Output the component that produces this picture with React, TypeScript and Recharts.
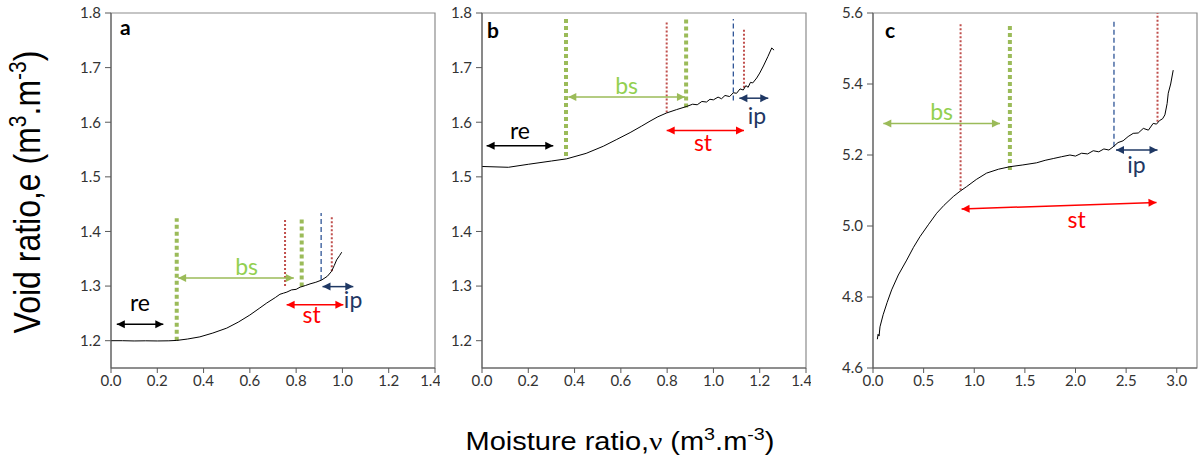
import {
  Line,
  LineChart,
  ReferenceArea,
  ReferenceDot,
  ReferenceLine,
  XAxis,
  YAxis,
} from "recharts";

// ---- curve data (moisture ratio v, void ratio e) ----
const aMoisture = [0, 0.05, 0.1, 0.15, 0.2, 0.25, 0.284, 0.33, 0.384, 0.44, 0.5, 0.55, 0.6, 0.64, 0.673, 0.71, 0.73, 0.745, 0.76, 0.78, 0.8, 0.817, 0.84, 0.86, 0.885, 0.91, 0.935, 0.953, 0.965, 0.975, 0.988, 0.997];
const aVoid = [1.2, 1.2, 1.1995, 1.1998, 1.1995, 1.1998, 1.2005, 1.203, 1.207, 1.214, 1.223, 1.234, 1.247, 1.259, 1.269, 1.279, 1.285, 1.287, 1.289, 1.293, 1.294, 1.298, 1.301, 1.304, 1.307, 1.311, 1.318, 1.327, 1.338, 1.348, 1.356, 1.362];

const bMoisture = [0, 0.114, 0.2, 0.3, 0.366, 0.45, 0.524, 0.58, 0.64, 0.69, 0.726, 0.76, 0.798, 0.84, 0.885, 0.91, 0.93, 0.95, 0.97, 0.985, 1.0, 1.02, 1.035, 1.05, 1.07, 1.086, 1.1, 1.115, 1.129, 1.14, 1.15, 1.16, 1.17, 1.187, 1.2, 1.216, 1.235, 1.252, 1.262];
const bVoid = [1.519, 1.5175, 1.523, 1.529, 1.533, 1.543, 1.556, 1.568, 1.581, 1.593, 1.602, 1.61, 1.617, 1.623, 1.629, 1.633, 1.632, 1.638, 1.637, 1.642, 1.641, 1.646, 1.643, 1.649, 1.647, 1.654, 1.653, 1.661, 1.659, 1.667, 1.664, 1.673, 1.672, 1.681, 1.69, 1.703, 1.72, 1.736, 1.732];

const cMoisture = [0.043, 0.05, 0.06, 0.069, 0.1, 0.14, 0.184, 0.25, 0.333, 0.4, 0.464, 0.55, 0.629, 0.7, 0.793, 0.86, 0.925, 1.02, 1.122, 1.24, 1.352, 1.48, 1.616, 1.7, 1.78, 1.86, 1.945, 2.0, 2.06, 2.12, 2.175, 2.23, 2.28, 2.33, 2.372, 2.42, 2.47, 2.52, 2.57, 2.62, 2.67, 2.72, 2.767, 2.8, 2.83, 2.86, 2.883, 2.905, 2.916, 2.94, 2.965];
const cVoid = [4.681, 4.695, 4.69, 4.716, 4.75, 4.785, 4.82, 4.862, 4.904, 4.94, 4.97, 5.005, 5.036, 5.058, 5.083, 5.098, 5.111, 5.131, 5.149, 5.16, 5.167, 5.172, 5.178, 5.185, 5.19, 5.195, 5.2, 5.197, 5.205, 5.203, 5.212, 5.209, 5.217, 5.214, 5.223, 5.235, 5.24, 5.252, 5.261, 5.262, 5.275, 5.27, 5.289, 5.287, 5.297, 5.302, 5.313, 5.345, 5.374, 5.4, 5.439];

// ---- ticks ----
const abXTicks = [0, 0.2, 0.4, 0.6, 0.8, 1.0, 1.2, 1.4];
const abYTicks = [1.2, 1.3, 1.4, 1.5, 1.6, 1.7, 1.8];
const cXTicks = [0, 0.5, 1.0, 1.5, 2.0, 2.5, 3.0];
const cYTicks = [4.6, 4.8, 5.0, 5.2, 5.4, 5.6];

// ---- annotations ----
type Kind = "re" | "bs" | "st" | "ip";
type Bound = { kind: Kind; v: number; top: number; bottom: number };
type Span = { kind: Kind; from: number; to: number; e: number; e2?: number };
type Tag = { kind: Kind; v: number; e: number };

const aBounds: Bound[] = [
  { kind: "bs", v: 0.284, top: 1.424, bottom: 1.2 },
  { kind: "bs", v: 0.824, top: 1.424, bottom: 1.299 },
  { kind: "st", v: 0.752, top: 1.424, bottom: 1.3 },
  { kind: "st", v: 0.954, top: 1.429, bottom: 1.327 },
  { kind: "ip", v: 0.908, top: 1.434, bottom: 1.311 },
];
const aSpans: Span[] = [
  { kind: "re", from: 0.025, to: 0.226, e: 1.23 },
  { kind: "bs", from: 0.29, to: 0.79, e: 1.315 },
  { kind: "st", from: 0.759, to: 1.004, e: 1.266 },
  { kind: "ip", from: 0.914, to: 1.047, e: 1.299 },
];
const aTags: Tag[] = [
  { kind: "re", v: 0.125, e: 1.269 },
  { kind: "bs", v: 0.586, e: 1.336 },
  { kind: "st", v: 0.867, e: 1.247 },
  { kind: "ip", v: 1.046, e: 1.275 },
];

const bBounds: Bound[] = [
  { kind: "bs", v: 0.363, top: 1.792, bottom: 1.538 },
  { kind: "bs", v: 0.882, top: 1.792, bottom: 1.627 },
  { kind: "st", v: 0.798, top: 1.785, bottom: 1.618 },
  { kind: "st", v: 1.132, top: 1.77, bottom: 1.663 },
  { kind: "ip", v: 1.086, top: 1.789, bottom: 1.64 },
];
const bSpans: Span[] = [
  { kind: "re", from: 0.02, to: 0.308, e: 1.557 },
  { kind: "bs", from: 0.373, to: 0.877, e: 1.646 },
  { kind: "st", from: 0.798, to: 1.132, e: 1.585 },
  { kind: "ip", from: 1.112, to: 1.237, e: 1.644 },
];
const bTags: Tag[] = [
  { kind: "re", v: 0.164, e: 1.584 },
  { kind: "bs", v: 0.625, e: 1.667 },
  { kind: "st", v: 0.955, e: 1.563 },
  { kind: "ip", v: 1.188, e: 1.611 },
];

const cBounds: Bound[] = [
  { kind: "st", v: 0.865, top: 5.569, bottom: 5.101 },
  { kind: "bs", v: 1.352, top: 5.569, bottom: 5.158 },
  { kind: "ip", v: 2.38, top: 5.58, bottom: 5.223 },
  { kind: "st", v: 2.81, top: 5.6, bottom: 5.294 },
];
const cSpans: Span[] = [
  { kind: "bs", from: 0.102, to: 1.254, e: 5.289 },
  { kind: "ip", from: 2.4, to: 2.81, e: 5.214 },
  { kind: "st", from: 0.875, to: 2.8, e: 5.048, e2: 5.066 },
];
const cTags: Tag[] = [
  { kind: "bs", v: 0.678, e: 5.322 },
  { kind: "ip", v: 2.603, e: 5.172 },
  { kind: "st", v: 2.011, e: 5.017 },
];

// ---- styles ----
const boundStyle: Record<Kind, { stroke: string; width: number; dash: string }> = {
  re: { stroke: "#000", width: 1, dash: "2 2" },
  bs: { stroke: "#9bbb59", width: 4, dash: "4 3" },
  st: { stroke: "#c0504d", width: 2, dash: "2 2" },
  ip: { stroke: "#2f5597", width: 1.3, dash: "5 3" },
};
const arrowColor: Record<Kind, string> = { re: "#000", bs: "#9bbb59", st: "#ff0000", ip: "#1f3864" };
const tagColor: Record<Kind, string> = { re: "#000", bs: "#92d050", st: "#ff0000", ip: "#1f3864" };

const tickFont = { fontSize: 15, fill: "#333", fontFamily: "Lato, sans-serif" };

function arrowShape(color: string) {
  return (p: any) => {
    const { x1, y1, x2, y2 } = p;
    const a = Math.atan2(y2 - y1, x2 - x1);
    const head = (x: number, y: number, ang: number) => {
      const L = 8;
      const W = 4;
      const bx = x - L * Math.cos(ang);
      const by = y - L * Math.sin(ang);
      return `${x},${y} ${bx - W * Math.sin(ang)},${by + W * Math.cos(ang)} ${bx + W * Math.sin(ang)},${by - W * Math.cos(ang)}`;
    };
    return (
      <g>
        <line x1={x1} y1={y1} x2={x2} y2={y2} stroke={color} strokeWidth={1.5} />
        <polygon points={head(x2, y2, a)} fill={color} />
        <polygon points={head(x1, y1, a + Math.PI)} fill={color} />
      </g>
    );
  };
}

function Panel({
  left,
  width,
  marginLeft,
  marginRight,
  moisture,
  voids,
  xDomain,
  xTicks,
  yDomain,
  yTicks,
  bounds,
  spans,
  tags,
}: {
  left: number;
  width: number;
  marginLeft: number;
  marginRight: number;
  moisture: number[];
  voids: number[];
  xDomain: [number, number];
  xTicks: number[];
  yDomain: [number, number];
  yTicks: number[];
  bounds: Bound[];
  spans: Span[];
  tags: Tag[];
}) {
  const data = moisture.map((v, i) => ({ v, e: voids[i] }));
  return (
    <div style={{ position: "absolute", left, top: 0 }}>
      <LineChart
        width={width}
        height={400}
        data={data}
        margin={{ top: 13, right: marginRight, bottom: 2, left: marginLeft }}
      >
        <ReferenceArea
          x1={xDomain[0]}
          x2={xDomain[1]}
          y1={yDomain[0]}
          y2={yDomain[1]}
          fill="none"
          stroke="#8c8c8c"
          strokeWidth={1.2}
          ifOverflow="visible"
        />
        <XAxis
          type="number"
          dataKey="v"
          domain={xDomain}
          ticks={xTicks}
          allowDataOverflow
          tickFormatter={(t: number) => t.toFixed(1)}
          tick={tickFont}
          tickSize={5}
          height={30}
          stroke="#595959"
        />
        <YAxis
          type="number"
          domain={yDomain}
          ticks={yTicks}
          allowDataOverflow
          tickFormatter={(t: number) => t.toFixed(1)}
          tick={tickFont}
          tickSize={6}
          tickMargin={4}
          width={40}
          stroke="#595959"
        />
        {bounds.map((b, i) => (
          <ReferenceLine
            key={`b${i}`}
            segment={[
              { x: b.v, y: b.bottom },
              { x: b.v, y: b.top },
            ]}
            stroke={boundStyle[b.kind].stroke}
            strokeWidth={boundStyle[b.kind].width}
            strokeDasharray={boundStyle[b.kind].dash}
            ifOverflow="visible"
          />
        ))}
        <Line
          type="linear"
          dataKey="e"
          stroke="#000"
          strokeWidth={1}
          dot={false}
          isAnimationActive={false}
        />
        {spans.map((s, i) => (
          <ReferenceLine
            key={`s${i}`}
            segment={[
              { x: s.from, y: s.e },
              { x: s.to, y: s.e2 ?? s.e },
            ]}
            stroke={arrowColor[s.kind]}
            shape={arrowShape(arrowColor[s.kind])}
            ifOverflow="visible"
          />
        ))}
        {tags.map((t, i) => (
          <ReferenceDot
            key={`t${i}`}
            x={t.v}
            y={t.e}
            r={0}
            stroke="none"
            fill="none"
            ifOverflow="visible"
            label={{
              value: t.kind,
              position: "center",
              fill: tagColor[t.kind],
              fontSize: 23,
              fontFamily: "Lato, sans-serif",
            }}
          />
        ))}
      </LineChart>
    </div>
  );
}

const panelLetters = ["a", "b", "c"];

export default function App() {
  const letterPos = [
    [120, 35],
    [487, 38],
    [885, 38],
  ];
  return (
    <div
      style={{
        position: "absolute",
        left: 0,
        top: 0,
        width: 1198,
        height: 468,
        background: "#fff",
        overflow: "hidden",
      }}
    >
      <Panel
        left={70}
        width={370}
        marginLeft={1}
        marginRight={5}
        moisture={aMoisture}
        voids={aVoid}
        xDomain={[0, 1.4]}
        xTicks={abXTicks}
        yDomain={[1.15, 1.8]}
        yTicks={abYTicks}
        bounds={aBounds}
        spans={aSpans}
        tags={aTags}
      />
      <Panel
        left={440}
        width={371}
        marginLeft={2}
        marginRight={5}
        moisture={bMoisture}
        voids={bVoid}
        xDomain={[0, 1.4]}
        xTicks={abXTicks}
        yDomain={[1.15, 1.8]}
        yTicks={abYTicks}
        bounds={bBounds}
        spans={bSpans}
        tags={bTags}
      />
      <Panel
        left={830}
        width={368}
        marginLeft={3}
        marginRight={1}
        moisture={cMoisture}
        voids={cVoid}
        xDomain={[0, 3.2]}
        xTicks={cXTicks}
        yDomain={[4.6, 5.6]}
        yTicks={cYTicks}
        bounds={cBounds}
        spans={cSpans}
        tags={cTags}
      />
      <svg
        width={1198}
        height={468}
        style={{ position: "absolute", left: 0, top: 0, pointerEvents: "none" }}
      >
        {panelLetters.map((l, i) => (
          <text
            key={l}
            x={letterPos[i][0]}
            y={letterPos[i][1]}
            fontSize={21}
            fontWeight={700}
            fontFamily="Lato, sans-serif"
            fill="#000"
          >
            {l}
          </text>
        ))}
        <text
          transform="translate(40,192) scale(1.16,1) rotate(-90)"
          textAnchor="middle"
          fontSize={32}
          fontFamily="'Liberation Sans', Arial, sans-serif"
          fill="#000"
        >
          Void ratio,e (m<tspan fontSize={21} dy={-12}>3</tspan>
          <tspan dy={12}>.m</tspan>
          <tspan fontSize={21} dy={-12}>-3</tspan>
          <tspan dy={12}>)</tspan>
        </text>
        <text
          transform="translate(620,450) scale(1.16,1)"
          textAnchor="middle"
          fontSize={25}
          fontFamily="'Liberation Sans', Arial, sans-serif"
          fill="#000"
        >
          Moisture ratio,
          <tspan fontFamily="'Liberation Serif', 'Times New Roman', serif">ν</tspan> (m
          <tspan fontSize={17} dy={-10}>3</tspan>
          <tspan dy={10}>.m</tspan>
          <tspan fontSize={17} dy={-10}>-3</tspan>
          <tspan dy={10}>)</tspan>
        </text>
      </svg>
    </div>
  );
}
